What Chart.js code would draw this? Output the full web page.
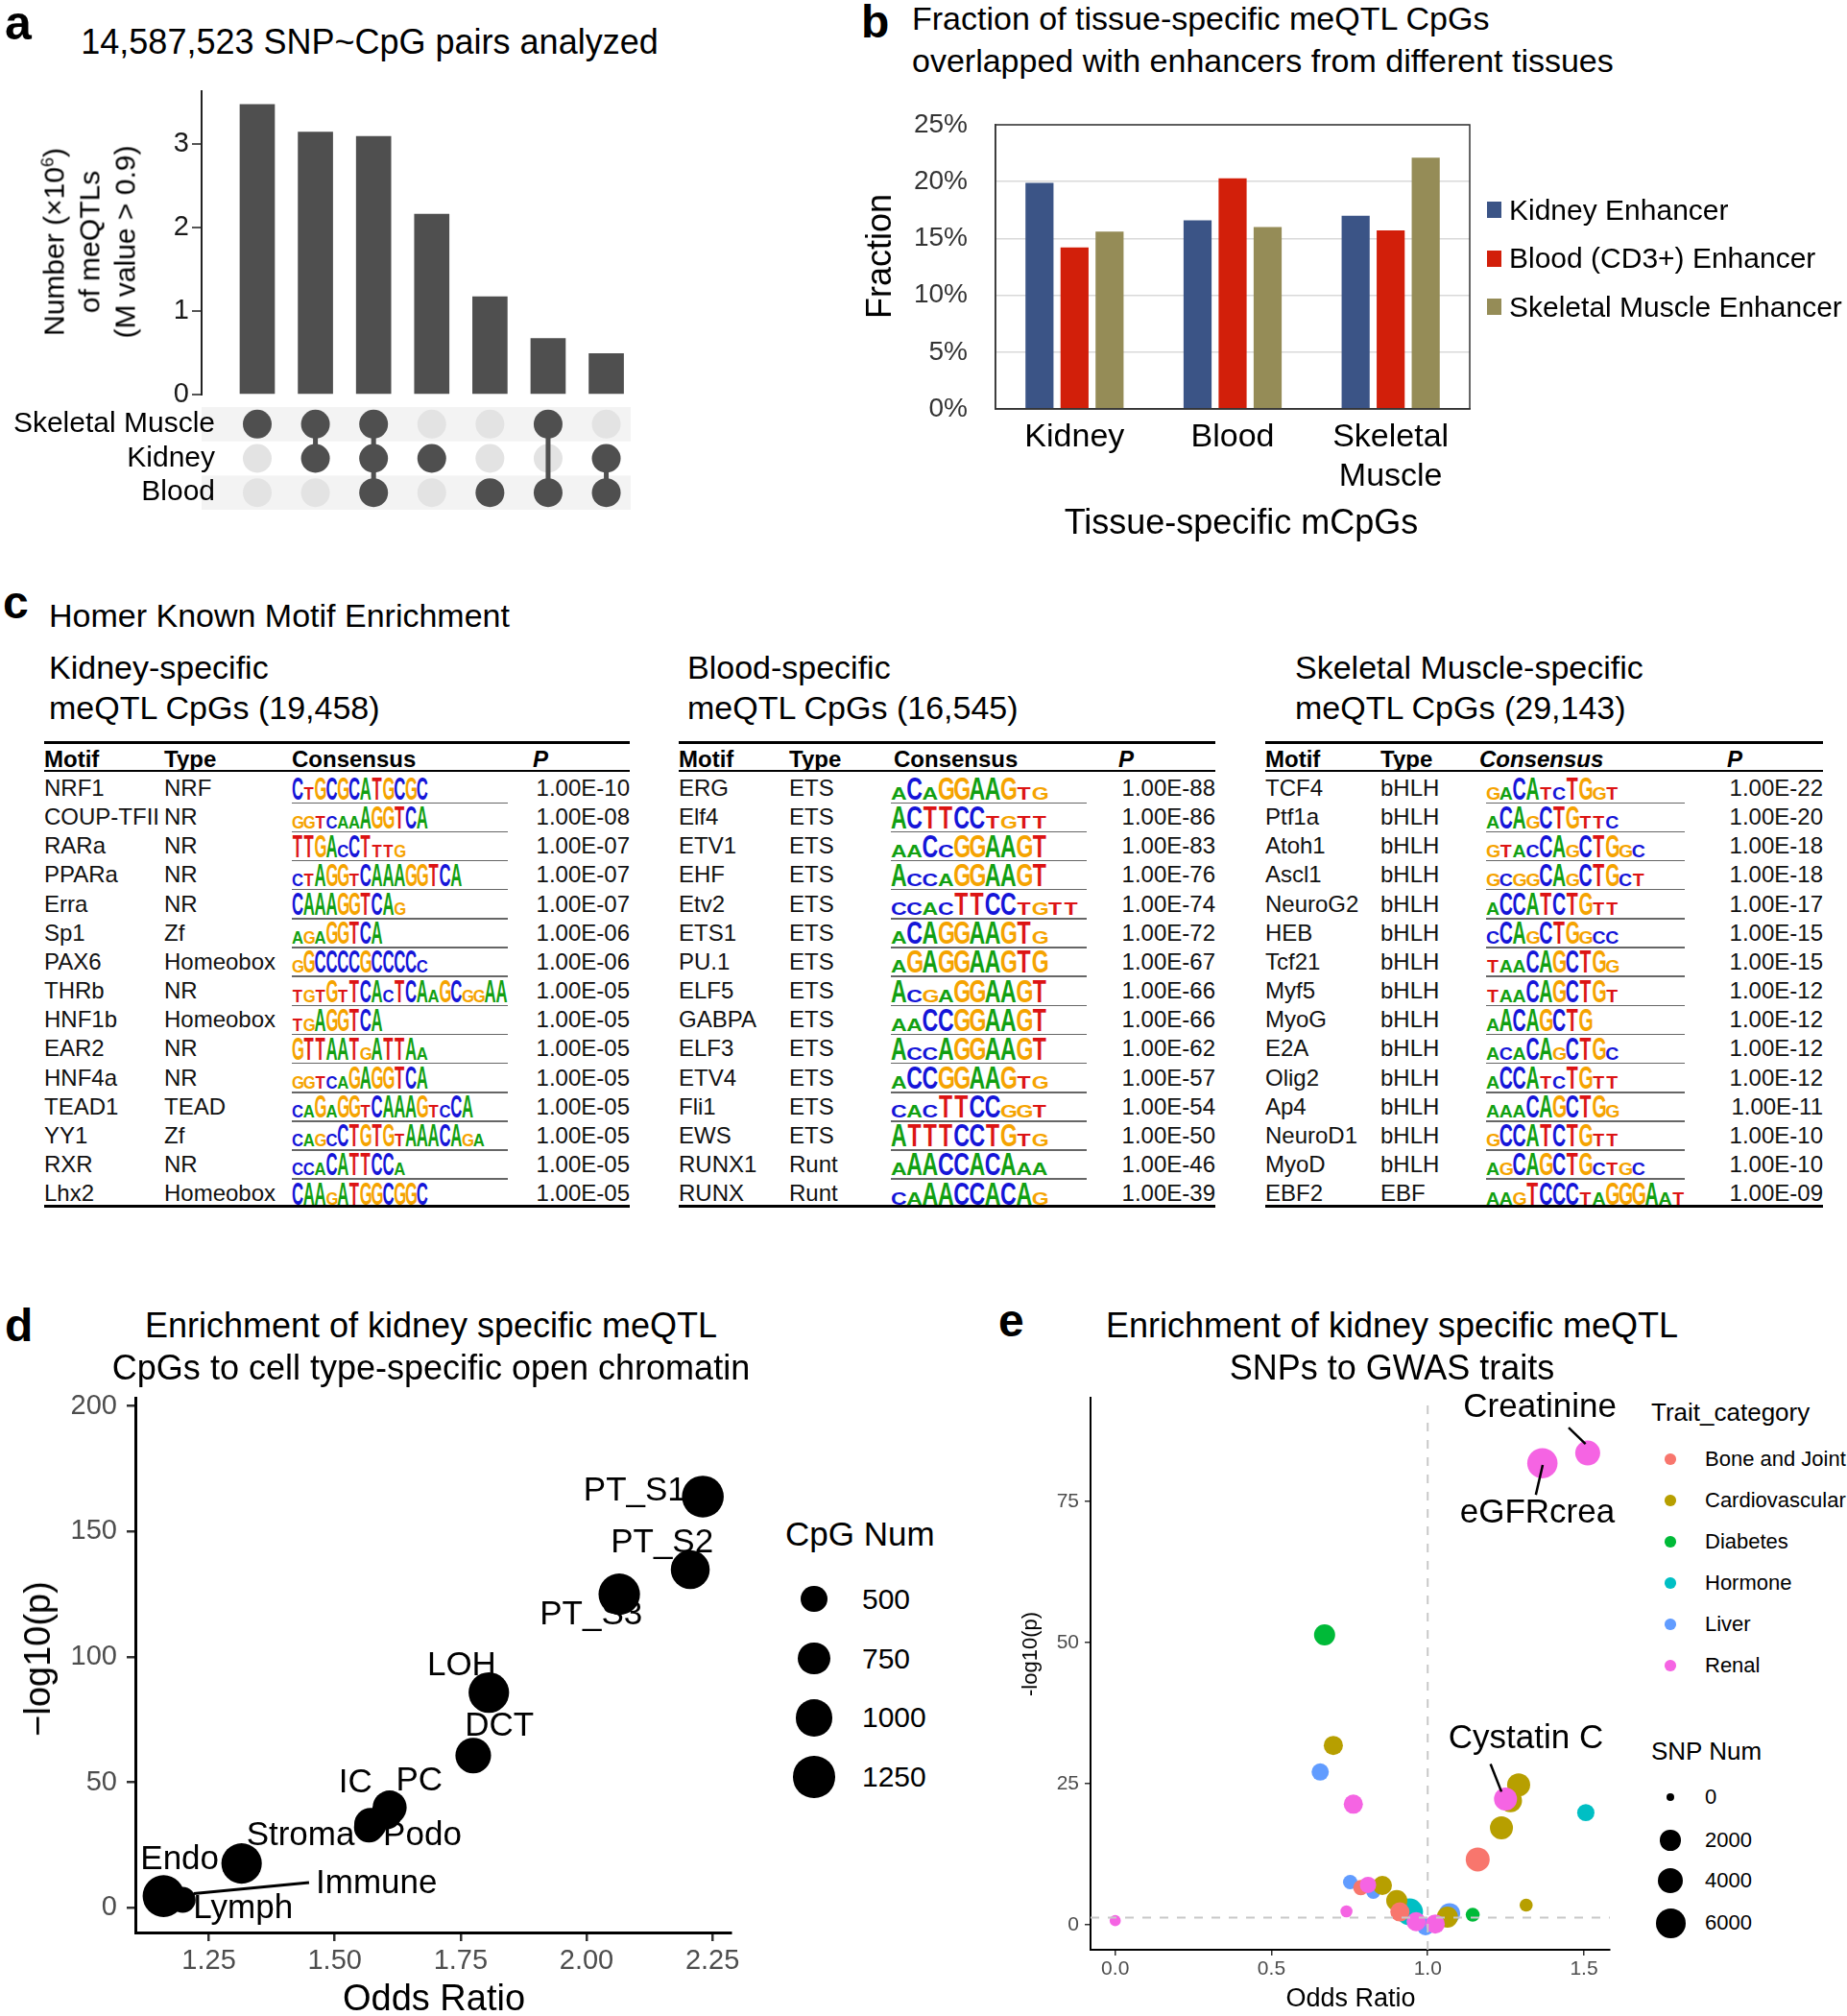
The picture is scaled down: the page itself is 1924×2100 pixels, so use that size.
<!DOCTYPE html>
<html><head><meta charset="utf-8">
<script src="https://cdn.jsdelivr.net/npm/chart.js@4.4.1/dist/chart.umd.min.js"></script>
<style>
html,body{margin:0;padding:0;background:#fff}
body{width:1924px;height:2100px;position:relative;overflow:hidden;font-family:'Liberation Sans',Arial,sans-serif;color:#000}
canvas{position:absolute}
.t{position:absolute;white-space:nowrap}
.box{position:absolute}
.logo{position:absolute;font-family:'Liberation Sans',Arial,sans-serif;font-weight:bold;font-size:34px;line-height:34px;white-space:nowrap;transform-origin:0 0}
.logo span{display:inline-block;width:24px;text-align:center;transform-origin:50% 29px}
.logo span.weak{transform:scaleY(0.55)}
sup{font-size:0.6em;line-height:0;vertical-align:0.6em}
</style></head><body>
<canvas id="cA1"></canvas><canvas id="cA2"></canvas><canvas id="cB"></canvas><canvas id="cD"></canvas><canvas id="cE"></canvas>
<script>
// ---------------- DATA ----------------
// Panel a (UpSet)
const upsetSets = ['Skeletal Muscle', 'Kidney', 'Blood'];
const upsetCounts = [3.47, 3.14, 3.09, 2.16, 1.17, 0.67, 0.49];
const upsetMembers = [
  ['Skeletal Muscle'], ['Skeletal Muscle','Kidney'], ['Skeletal Muscle','Kidney','Blood'],
  ['Kidney'], ['Blood'], ['Skeletal Muscle','Blood'], ['Kidney','Blood']];
const upsetTicks = [0, 1, 2, 3];

// Panel b
const enhTissues = [['Kidney'], ['Blood'], ['Skeletal','Muscle']];
const enhSeries = ['Kidney Enhancer', 'Blood (CD3+) Enhancer', 'Skeletal Muscle Enhancer'];
const enhKidney = [19.9, 16.6, 17.0];
const enhBlood = [14.2, 20.3, 15.7];
const enhMuscle = [15.6, 16.0, 22.1];
const enhTicks = [0, 5, 10, 15, 20, 25];

// Panel c (Homer motif tables) : [motif, type, consensus (lower case = weak position), P]
const motifKidney = [
 ['NRF1','NRF','CtGCGCATGCGC','1.00E-10'],
 ['COUP-TFII','NR','ggtcaaAGGTCA','1.00E-08'],
 ['RARa','NR','TTGAcCTttg','1.00E-07'],
 ['PPARa','NR','ctAGGtCAAAGGTCA','1.00E-07'],
 ['Erra','NR','CAAAGGTCAg','1.00E-07'],
 ['Sp1','Zf','agaGGTCA','1.00E-06'],
 ['PAX6','Homeobox','gGCCCCGCCCCc','1.00E-06'],
 ['THRb','NR','tgtGtTCAcTCAaGCggAA','1.00E-05'],
 ['HNF1b','Homeobox','tgAGGTCA','1.00E-05'],
 ['EAR2','NR','GTTAATgATTAa','1.00E-05'],
 ['HNF4a','NR','ggtcaGAGGTCA','1.00E-05'],
 ['TEAD1','TEAD','caGaGGtCAAAGtcCA','1.00E-05'],
 ['YY1','Zf','cagcCTGTGtAAACAga','1.00E-05'],
 ['RXR','NR','ccaCATTCCa','1.00E-05'],
 ['Lhx2','Homeobox','CAAgATGGCGGC','1.00E-05']];
const motifBlood = [
 ['ERG','ETS','aCaGGAAGtg','1.00E-88'],
 ['Elf4','ETS','ACTTCCtgtt','1.00E-86'],
 ['ETV1','ETS','aaCcGGAAGT','1.00E-83'],
 ['EHF','ETS','AccaGGAAGT','1.00E-76'],
 ['Etv2','ETS','ccacTTCCtgtt','1.00E-74'],
 ['ETS1','ETS','aCAGGAAGTg','1.00E-72'],
 ['PU.1','ETS','aGAGGAAGTG','1.00E-67'],
 ['ELF5','ETS','AcgaGGAAGT','1.00E-66'],
 ['GABPA','ETS','aaCCGGAAGT','1.00E-66'],
 ['ELF3','ETS','AccAGGAAGT','1.00E-62'],
 ['ETV4','ETS','aCCGGAAGtg','1.00E-57'],
 ['Fli1','ETS','cacTTCCggt','1.00E-54'],
 ['EWS','ETS','ATTTCCTGtg','1.00E-50'],
 ['RUNX1','Runt','aAACCACAaa','1.00E-46'],
 ['RUNX','Runt','caAACCACAg','1.00E-39']];
const motifMuscle = [
 ['TCF4','bHLH','gaCAtcTGgt','1.00E-22'],
 ['Ptf1a','bHLH','aCAgCTGttc','1.00E-20'],
 ['Atoh1','bHLH','gtacCAgCTGgc','1.00E-18'],
 ['Ascl1','bHLH','gcggCAgCTGct','1.00E-18'],
 ['NeuroG2','bHLH','aCCATCTGtt','1.00E-17'],
 ['HEB','bHLH','cCAgCTGgcc','1.00E-15'],
 ['Tcf21','bHLH','taaCAGCTGg','1.00E-15'],
 ['Myf5','bHLH','taaCAGCTGt','1.00E-12'],
 ['MyoG','bHLH','aACAGCTG','1.00E-12'],
 ['E2A','bHLH','acaCAgCTGc','1.00E-12'],
 ['Olig2','bHLH','aCCAtcTGtt','1.00E-12'],
 ['Ap4','bHLH','aaaCAGCTGg','1.00E-11'],
 ['NeuroD1','bHLH','gCCATCTGtt','1.00E-10'],
 ['MyoD','bHLH','agCAGCTGctgc','1.00E-10'],
 ['EBF2','EBF','aagTCCCtaGGGAat','1.00E-09']];

// Panel d
const cellTypes = ['PT_S1','PT_S2','PT_S3','LOH','DCT','PC','IC','Podo','Stroma','Endo','Immune','Lymph'];
const cellOR    = [2.231, 2.206, 2.065, 1.806, 1.775, 1.609, 1.571, 1.603, 1.568, 1.315, 1.198, 1.160];
const cellLogP  = [163.9, 134.8, 125.0, 85.8, 60.7, 40.0, 33.4, 37.5, 32.0, 17.7, 3.2, 4.7];
const cellCpG   = [1267, 1096, 1245, 1190, 920, 840, 763, 700, 650, 1186, 485, 1267];
const cpgLegend = [500, 750, 1000, 1250];
const dXTicks = [1.25, 1.50, 1.75, 2.00, 2.25];
const dYTicks = [0, 50, 100, 150, 200];

// Panel e : [odds ratio, -log10 p, SNP num]
const traitCategories = ['Bone and Joint','Cardiovascular','Diabetes','Hormone','Liver','Renal'];
const gwasBone   = [[1.160, 11.6, 3280], [0.786, 6.6, 726], [0.911, 2.3, 1630]];
const gwasCardio = [[0.698, 31.8, 1630], [1.291, 24.8, 2900], [1.265, 22.0, 2900], [1.236, 17.2, 2900],
                    [1.315, 3.5, 360], [0.855, 7.0, 1630], [0.901, 4.3, 2220], [1.063, 1.4, 2220]];
const gwasDiabetes = [[0.670, 51.4, 2220], [1.144, 1.8, 490]];
const gwasHormone  = [[1.506, 19.9, 1130], [0.942, 2.3, 4540]];
const gwasLiver    = [[0.656, 27.1, 1130], [0.752, 7.6, 560], [0.826, 5.9, 560], [0.993, -0.3, 1130], [1.070, 2.0, 2220]];
const gwasRenal    = [[1.512, 83.6, 3675], [1.367, 81.8, 6300], [1.249, 22.3, 2900], [0.762, 21.4, 1630],
                      [0.740, 2.4, 240], [0.0, 0.76, 150], [0.809, 7.1, 920], [0.963, 0.57, 1630], [1.024, 0.17, 1630]];
const snpLegend = [0, 2000, 4000, 6000];
const eXTicks = [0, 0.5, 1.0, 1.5];
const eYTicks = [0, 25, 50, 75];
const pThreshold = 1.3;   // -log10(0.05)
const orNull = 1.0;

// ---------------- STYLE / HELPERS ----------------
Chart.defaults.font.family = "'Liberation Sans', Arial, sans-serif";
Chart.defaults.color = '#000';
const DARK = '#4f4f4f';
const enhColors = ['#3b5486', '#d21f0a', '#958c57'];
const traitColors = ['#F8766D', '#B79F00', '#00BA38', '#00BFC4', '#619CFF', '#F564E3'];
const LOGO_COL = {A:'#12a012', C:'#1515d8', G:'#f5a300', T:'#dc1414'};
const rD = n => 0.612 * Math.sqrt(n);
const rE = n => 4 + 11.5 * Math.sqrt(n / 6000);

function mk(id, B){ const c = document.getElementById(id); c.width = B.cw; c.height = B.ch;
  c.style.left = B.cx + 'px'; c.style.top = B.cy + 'px'; c.style.width = B.cw + 'px'; c.style.height = B.ch + 'px'; return c; }
function zp(s){ s.paddingTop = 0; s.paddingBottom = 0; s.paddingLeft = 0; s.paddingRight = 0; }
function fitW(w){ return s => { s.width = w; zp(s); }; }
function fitH(h){ return s => { s.height = h; zp(s); }; }
function setTicks(arr){ return s => { s.ticks = arr.map(v => ({value: v})); }; }
function pad(B){ return {top: B.t - B.cy, right: B.cx + B.cw - B.r, left: 0, bottom: 0}; }
const base = {responsive:false, animation:false, devicePixelRatio:1, events:[]};

function T(html, x, y, size, o = {}){
  const d = document.createElement('div'); d.className = 't'; d.innerHTML = html;
  d.style.fontSize = size + 'px'; const lh = o.lh || size; d.style.lineHeight = lh + 'px';
  if (o.bold) d.style.fontWeight = 'bold'; if (o.italic) d.style.fontStyle = 'italic';
  if (o.color) d.style.color = o.color;
  d.style.left = x + 'px';
  if (o.rot){ d.style.top = y + 'px'; d.style.textAlign = 'center'; d.style.transform = 'translate(-50%,-50%) rotate(-90deg)'; }
  else { d.style.top = (y - size * 0.5) + 'px';
    const ax = o.align === 'center' ? '-50%' : o.align === 'right' ? '-100%' : '0';
    d.style.transform = 'translateX(' + ax + ')'; if (o.align === 'center') d.style.textAlign = 'center'; }
  document.body.appendChild(d); return d;
}
function R(x, y, w, h, color, radius){ const d = document.createElement('div'); d.className = 'box';
  d.style.left = x + 'px'; d.style.top = y + 'px'; d.style.width = w + 'px'; d.style.height = h + 'px';
  d.style.background = color; if (radius) d.style.borderRadius = '50%'; document.body.appendChild(d); return d; }
function dot(cx, cy, r, color){ return R(cx - r, cy - r, 2 * r, 2 * r, color, true); }

const annotPlugin = { id:'annot', afterDatasetsDraw(chart, args, opts){
  if (!opts || !opts.labels) return;
  const {ctx} = chart, x = chart.scales.x, y = chart.scales.y;
  ctx.save(); ctx.strokeStyle = '#000'; ctx.lineWidth = opts.segWidth || 2.5;
  (opts.segments || []).forEach(s => { ctx.beginPath(); ctx.moveTo(x.getPixelForValue(s[0]), y.getPixelForValue(s[1]));
    ctx.lineTo(x.getPixelForValue(s[2]), y.getPixelForValue(s[3])); ctx.stroke(); });
  ctx.font = opts.font; ctx.fillStyle = '#000'; ctx.textAlign = 'center'; ctx.textBaseline = 'middle';
  opts.labels.forEach(l => ctx.fillText(l.text, x.getPixelForValue(l.x), y.getPixelForValue(l.y)));
  ctx.restore(); } };

// ---------------- PANEL A ----------------
T('a', 5, 24, 50, {bold:true});
T('14,587,523 SNP~CpG pairs analyzed', 385, 44, 36, {align:'center'});
T('Number (×10<sup>6</sup>)<br>of meQTLs<br>(M value &gt; 0.9)', 93, 252, 30, {rot:true, lh:37});

const upX = {min:0.043, max:7.42};
const A1 = {cx:100, cy:80, cw:580, ch:345, l:210, t:95, r:657, b:411};
new Chart(mk('cA1', A1), {
  type:'bar',
  data:{datasets:[{data: upsetCounts.map((v, i) => ({x: i + 1, y: v})), backgroundColor: DARK, barThickness: 36}]},
  options:{...base, layout:{padding: pad(A1)}, plugins:{legend:{display:false}, tooltip:{enabled:false}},
    scales:{
      x:{type:'linear', offset:false, min:upX.min, max:upX.max, afterFit: fitH(A1.cy + A1.ch - A1.b), ticks:{display:false}, grid:{display:false, drawTicks:false, offset:false}, border:{display:false}},
      y:{min:0, max:3.63, afterFit: fitW(A1.l - A1.cx), afterBuildTicks: setTicks(upsetTicks),
         ticks:{font:{size:29}, color:'#1a1a1a', padding:3},
         grid:{drawOnChartArea:false, tickLength:10, color:'#555', lineWidth:2}, border:{color:'#222', width:2}}
    }}
});

const rowOf = s => upsetSets.length - upsetSets.indexOf(s);
const darkPts = [], lightPts = [], linkSets = [];
upsetMembers.forEach((m, i) => {
  upsetSets.forEach(s => (m.includes(s) ? darkPts : lightPts).push({x: i + 1, y: rowOf(s)}));
  if (m.length > 1){ const rows = m.map(rowOf);
    linkSets.push({type:'line', data:[{x:i + 1, y:Math.min(...rows)}, {x:i + 1, y:Math.max(...rows)}], borderColor:DARK, borderWidth:5, pointRadius:0, order:2}); }
});
const bandPlugin = { id:'bands', beforeDraw(c){ const {ctx, chartArea:a} = c, y = c.scales.y, x = c.scales.x;
  const x0 = x.getPixelForValue(upX.min); ctx.save(); ctx.fillStyle = '#f3f3f3';
  upsetSets.forEach((s, i) => { if (i % 2 === 0){ const v = rowOf(s); const y1 = y.getPixelForValue(v + 0.5), y2 = y.getPixelForValue(v - 0.5);
    ctx.fillRect(x0, y1, a.right - x0, y2 - y1); } }); ctx.restore(); } };
const A2 = {cx:0, cy:404, cw:680, ch:147, l:226, t:424, r:657, b:531};
const a2min = upX.min + (A2.l - A1.l) * (upX.max - upX.min) / (A1.r - A1.l);
new Chart(mk('cA2', A2), {
  type:'scatter',
  data:{datasets:[
    {data: lightPts, backgroundColor:'#e3e3e3', pointRadius:15, borderWidth:0, order:3},
    ...linkSets,
    {data: darkPts, backgroundColor: DARK, pointRadius:15, borderWidth:0, order:1}]},
  plugins:[bandPlugin],
  options:{...base, layout:{padding: pad(A2)}, plugins:{legend:{display:false}, tooltip:{enabled:false}},
    scales:{
      x:{type:'linear', min:a2min, max:upX.max, afterFit: fitH(A2.cy + A2.ch - A2.b), ticks:{display:false}, grid:{display:false, drawTicks:false}, border:{display:false}},
      y:{type:'linear', min:0.5, max:3.5, afterFit: fitW(A2.l - A2.cx), afterBuildTicks: setTicks([1, 2, 3]),
         ticks:{font:{size:30}, color:'#000', padding:2, callback: v => upsetSets[upsetSets.length - v]},
         grid:{display:false, drawTicks:false}, border:{display:false}}
    }}
});

// ---------------- PANEL B ----------------
T('b', 897, 23, 48, {bold:true});
T('Fraction of tissue-specific meQTL CpGs', 950, 19, 34);
T('overlapped with enhancers from different tissues', 950, 63, 34);
T('Fraction', 916, 267, 36, {rot:true});
T('Tissue-specific mCpGs', 1293, 544, 36, {align:'center'});
const legY = [218.5, 269, 319.5];
enhSeries.forEach((s, i) => { R(1549, legY[i] - 8.5, 15, 17, enhColors[i]); T(s, 1572, legY[i], 30); });

const borderPlugin = { id:'frame', afterDraw(c){ const {ctx, chartArea:a} = c; ctx.save(); ctx.strokeStyle = '#333'; ctx.lineWidth = 1.5;
  ctx.strokeRect(a.left, a.top, a.right - a.left, a.bottom - a.top); ctx.restore(); } };
const BB = {cx:880, cy:100, cw:680, ch:440, l:1037, t:130, r:1531, b:426};
new Chart(mk('cB', BB), {
  type:'bar',
  data:{labels: enhTissues, datasets: [enhKidney, enhBlood, enhMuscle].map((d, i) => ({label: enhSeries[i], data: d,
    backgroundColor: enhColors[i], categoryPercentage:0.665, barPercentage:0.8}))},
  plugins:[borderPlugin],
  options:{...base, layout:{padding: pad(BB)}, plugins:{legend:{display:false}, tooltip:{enabled:false}},
    scales:{
      x:{afterFit: fitH(BB.cy + BB.ch - BB.b), ticks:{font:{size:34}, color:'#000', padding:9}, grid:{display:false, drawTicks:false}, border:{color:'#333', width:1.5}},
      y:{min:0, max:25, afterFit: fitW(BB.l - BB.cx), afterBuildTicks: setTicks(enhTicks),
         ticks:{font:{size:28}, color:'#333', padding:29, callback: v => v + '%'},
         grid:{color:'#d9d9d9', lineWidth:1.5, drawTicks:false}, border:{color:'#333', width:1.5}}
    }}
});

// ---------------- PANEL C ----------------
T('c', 3, 628, 48, {bold:true});
T('Homer Known Motif Enrichment', 51, 641, 34);
T('Kidney-specific', 51, 695, 34); T('meQTL CpGs (19,458)', 51, 737, 34);
T('Blood-specific', 716, 695, 34); T('meQTL CpGs (16,545)', 716, 737, 34);
T('Skeletal Muscle-specific', 1349, 695, 34); T('meQTL CpGs (29,143)', 1349, 737, 34);

function logo(str, x, cy, slot){
  const d = document.createElement('div'); d.className = 'logo';
  d.style.left = x + 'px'; d.style.top = (cy - 17.5) + 'px'; d.style.transform = 'scaleX(' + (slot / 24) + ')';
  for (const ch of str){ const s = document.createElement('span'); const up = ch.toUpperCase();
    s.textContent = up; s.style.color = LOGO_COL[up]; if (ch !== up) s.className = 'weak'; d.appendChild(s); }
  document.body.appendChild(d);
}
function motifTable(rows, L){
  R(L.left, 772, L.right - L.left, 3, '#000');
  R(L.left, 802, L.right - L.left, 2, '#000');
  R(L.left, 1255, L.right - L.left, 3, '#000');
  T('Motif', L.left, 791, 24, {bold:true}); T('Type', L.type, 791, 24, {bold:true});
  T('Consensus', L.cons, 791, 24, {bold:true, italic: !!L.italic}); T('P', L.p, 791, 24, {bold:true, italic:true});
  rows.forEach((r, i) => { const cy = 821 + i * 30.15;
    T(r[0], L.left, cy, 24, {color:'#111'}); T(r[1], L.type, cy, 24, {color:'#111'});
    logo(r[2], L.logo, cy, L.slot);
    T(r[3], L.right, cy, 24, {align:'right', color:'#111'});
    if (i < rows.length - 1) R(L.logo, cy + 14.5, L.logoEnd - L.logo, 1.5, '#666');
  });
}
motifTable(motifKidney, {left:46, right:656, type:171, cons:304, logo:304, logoEnd:529, p:555, slot:11.8});
motifTable(motifBlood,  {left:707, right:1266, type:822, cons:931, logo:928, logoEnd:1132, p:1165, slot:16.3});
motifTable(motifMuscle, {left:1318, right:1899, type:1438, cons:1541, logo:1548, logoEnd:1755, p:1799, slot:13.8, italic:true});

// ---------------- PANEL D ----------------
T('d', 5, 1381, 48, {bold:true});
T('Enrichment of kidney specific meQTL', 449, 1381, 36, {align:'center'});
T('CpGs to cell type-specific open chromatin', 449, 1425, 36, {align:'center'});
T('−log10(p)', 38.5, 1728, 38, {rot:true});
T('Odds Ratio', 452, 2081, 38, {align:'center'});
T('CpG Num', 818, 1597, 35);
const cpgLegY = [1665.7, 1727.7, 1789.3, 1851];
cpgLegend.forEach((v, i) => { dot(848, cpgLegY[i], rD(v), '#000'); T(String(v), 898, cpgLegY[i], 30); });

const DD = {cx:0, cy:1434, cw:800, ch:666, l:141, t:1456, r:761, b:2013};
const dLabelPos = {PT_S1:[2.096,166.2], PT_S2:[2.150,145.5], PT_S3:[2.009,116.6], LOH:[1.752,96.6], DCT:[1.827,72.4],
  IC:[1.541,49.6], PC:[1.668,50.7], Stroma:[1.432,28.8], Podo:[1.674,28.8], Endo:[1.192,19.3], Immune:[1.583,9.7], Lymph:[1.318,-0.3]};
new Chart(mk('cD', DD), {
  type:'scatter',
  data:{datasets:[{data: cellTypes.map((c, i) => ({x: cellOR[i], y: cellLogP[i]})), pointRadius: cellCpG.map(rD),
    backgroundColor:'#000', borderWidth:0, clip:false}]},
  plugins:[annotPlugin],
  options:{...base, layout:{padding: pad(DD)},
    plugins:{legend:{display:false}, tooltip:{enabled:false},
      annot:{font:"35px 'Liberation Sans', Arial, sans-serif", segWidth:3,
        labels: cellTypes.map(c => ({text:c, x:dLabelPos[c][0], y:dLabelPos[c][1]})),
        segments:[[1.449, 10.1, 1.220, 5.7]]}},
    scales:{
      x:{type:'linear', min:1.104, max:2.286, afterFit: fitH(DD.cy + DD.ch - DD.b), afterBuildTicks: setTicks(dXTicks),
         ticks:{font:{size:29}, color:'#4d4d4d', padding:4, callback: v => v.toFixed(2)},
         grid:{drawOnChartArea:false, tickLength:9, color:'#333', lineWidth:2.5}, border:{color:'#000', width:3}},
      y:{type:'linear', min:-9.8, max:203.3, afterFit: fitW(DD.l - DD.cx), afterBuildTicks: setTicks(dYTicks),
         ticks:{font:{size:29}, color:'#4d4d4d', padding:10},
         grid:{drawOnChartArea:false, tickLength:9, color:'#333', lineWidth:2.5}, border:{color:'#000', width:3}}
    }}
});

// ---------------- PANEL E ----------------
T('e', 1040, 1376, 48, {bold:true});
T('Enrichment of kidney specific meQTL', 1450, 1381, 36, {align:'center'});
T('SNPs to GWAS traits', 1450, 1425, 36, {align:'center'});
T('-log10(p)', 1073, 1723, 22, {rot:true});
T('Odds Ratio', 1407, 2081, 27, {align:'center'});
T('Trait_category', 1720, 1471, 26);
traitCategories.forEach((c, i) => { const y = 1520 + i * 43; dot(1740, y, 5.75, traitColors[i]); T(c, 1776, y, 22); });
T('SNP Num', 1720, 1824, 26);
const snpLegY = [1872, 1917, 1959, 2003];
snpLegend.forEach((v, i) => { dot(1740, snpLegY[i], rE(v), '#000'); T(String(v), 1776, snpLegY[i], 22); });

const EE = {cx:1060, cy:1436, cw:640, ch:664, l:1136, t:1456, r:1677, b:2031};
const eXmin = -0.079, eXmax = 1.583, eYmin = -4.4, eYmax = 93.4;
const gwasSets = [gwasBone, gwasCardio, gwasDiabetes, gwasHormone, gwasLiver, gwasRenal];
const gwasDatasets = gwasSets.map((set, i) => ({label: traitCategories[i], data: set.map(p => ({x:p[0], y:p[1]})),
  pointRadius: set.map(p => rE(p[2])), backgroundColor: traitColors[i], borderWidth:0, clip:false,
  order: i === 5 ? 1 : 2 + i}));
new Chart(mk('cE', EE), {
  type:'scatter',
  data:{datasets:[
    {type:'line', data:[{x:orNull, y:eYmin}, {x:orNull, y:eYmax}], borderColor:'#c8c8c8', borderWidth:2, borderDash:[9,9], pointRadius:0, order:0},
    {type:'line', data:[{x:eXmin, y:pThreshold}, {x:eXmax, y:pThreshold}], borderColor:'#c8c8c8', borderWidth:2, borderDash:[9,9], pointRadius:0, order:0},
    ...gwasDatasets]},
  plugins:[annotPlugin],
  options:{...base, layout:{padding: pad(EE)},
    plugins:{legend:{display:false}, tooltip:{enabled:false},
      annot:{font:"35px 'Liberation Sans', Arial, sans-serif", segWidth:2.5,
        labels:[{text:'Creatinine', x:1.359, y:91.7}, {text:'eGFRcrea', x:1.351, y:73.0}, {text:'Cystatin C', x:1.314, y:33.0}],
        segments:[[1.451, 88.1, 1.505, 85.2], [1.368, 81.5, 1.346, 76.2], [1.201, 28.5, 1.236, 23.6]]}},
    scales:{
      x:{type:'linear', min:eXmin, max:eXmax, afterFit: fitH(EE.cy + EE.ch - EE.b), afterBuildTicks: setTicks(eXTicks),
         ticks:{font:{size:21}, color:'#4d4d4d', padding:2, callback: v => v.toFixed(1)},
         grid:{drawOnChartArea:false, tickLength:6, color:'#333', lineWidth:1.5}, border:{color:'#000', width:2}},
      y:{type:'linear', min:eYmin, max:eYmax, afterFit: fitW(EE.l - EE.cx), afterBuildTicks: setTicks(eYTicks),
         ticks:{font:{size:21}, color:'#4d4d4d', padding:6},
         grid:{drawOnChartArea:false, tickLength:6, color:'#333', lineWidth:1.5}, border:{color:'#000', width:2}}
    }}
});
</script>
</body></html>
